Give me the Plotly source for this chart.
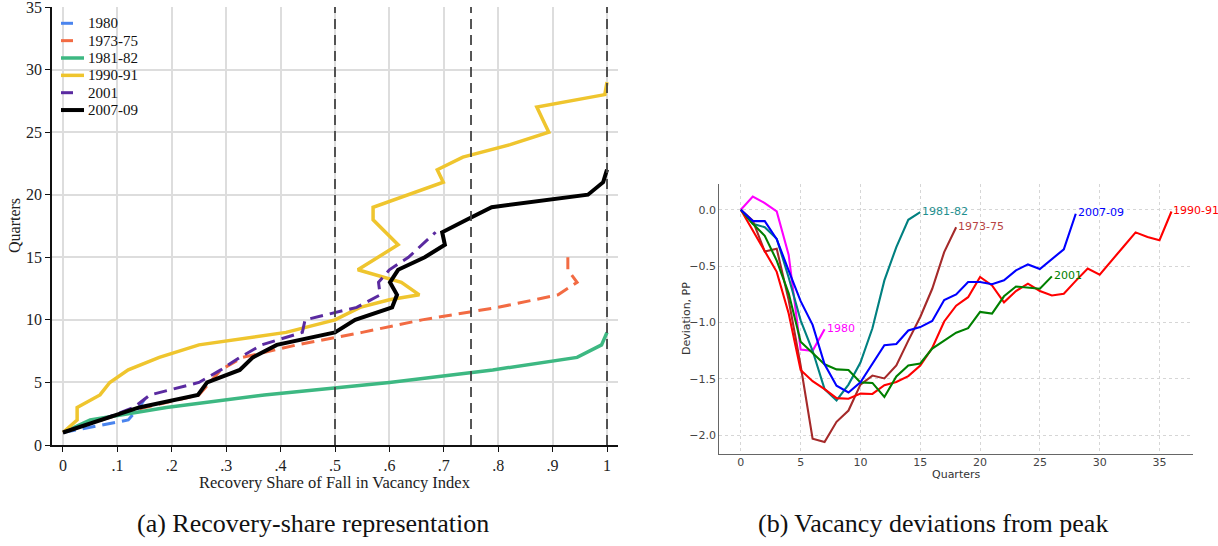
import plotly.graph_objects as go

# ---------------- Panel (a): quarters needed to reach each recovery share ----------------
share_1980 = [0.0, 0.12, 0.14, 0.155]
qtr_1980 = [1, 2, 3, 4]

share_1973 = [0.0, 0.07, 0.15, 0.25, 0.27, 0.29, 0.33, 0.43, 0.55, 0.66, 0.80, 0.91, 0.945, 0.928, 0.928]
qtr_1973 = [1, 2, 3, 4, 5, 6, 7, 8, 9, 10, 11, 12, 13, 14, 15]

share_1981 = [0.0, 0.05, 0.19, 0.37, 0.60, 0.79, 0.945, 0.99, 1.0]
qtr_1981 = [1, 2, 3, 4, 5, 6, 7, 8, 9]

share_1990 = [0.0, 0.026, 0.026, 0.068, 0.086, 0.12, 0.177, 0.25, 0.41, 0.50, 0.546, 0.60, 0.655,
              0.622, 0.542, 0.579, 0.616, 0.593, 0.57, 0.57, 0.635, 0.699, 0.688, 0.735, 0.822,
              0.893, 0.882, 0.871, 0.996, 1.0]
qtr_1990 = [1, 2, 3, 4, 5, 6, 7, 8, 9, 10, 11, 11.6, 12, 13, 14, 15, 16, 17, 18, 19, 20, 21, 22,
            23, 24, 25, 26, 27, 28, 29]

share_2001 = [0.0, 0.07, 0.13, 0.16, 0.25, 0.29, 0.325, 0.365, 0.44, 0.445, 0.54, 0.583, 0.58,
              0.60, 0.635, 0.66, 0.685]
qtr_2001 = [1, 2, 3, 4, 5, 6, 7, 8, 9, 10, 11, 12, 13, 14, 15, 16, 17]

share_2007 = [0.0, 0.07, 0.14, 0.248, 0.265, 0.325, 0.349, 0.393, 0.50, 0.537, 0.605, 0.614,
              0.601, 0.616, 0.665, 0.702, 0.697, 0.742, 0.788, 0.965, 0.993, 1.0]
qtr_2007 = [1, 2, 3, 4, 5, 6, 7, 8, 9, 10, 11, 12, 13, 14, 15, 16, 17, 18, 19, 20, 21, 22]

marker_shares = [0.5, 0.75, 1.0]
share_ticks = [0, 0.1, 0.2, 0.3, 0.4, 0.5, 0.6, 0.7, 0.8, 0.9, 1.0]
share_tick_text = ["0", ".1", ".2", ".3", ".4", ".5", ".6", ".7", ".8", ".9", "1"]

# ---------------- Panel (b): vacancy deviation from peak, by quarter ----------------
dev_1980 = [0.0, 0.118, 0.06, -0.015, -0.40, -1.24, -1.25, -1.06]
dev_1981 = [0.0, -0.124, -0.154, -0.257, -0.60, -0.98, -1.25, -1.59, -1.69, -1.55, -1.355,
            -1.05, -0.626, -0.33, -0.088, -0.02]
dev_1973 = [0.0, -0.095, -0.37, -0.345, -0.80, -1.38, -2.03, -2.06, -1.88, -1.78, -1.55, -1.47,
            -1.495, -1.38, -1.16, -0.95, -0.70, -0.375, -0.154]
dev_1990 = [0.0, -0.18, -0.37, -0.55, -0.92, -1.42, -1.52, -1.59, -1.67, -1.675, -1.63, -1.633,
            -1.555, -1.527, -1.475, -1.38, -1.225, -0.99, -0.85, -0.775, -0.595, -0.67, -0.82,
            -0.72, -0.655, -0.72, -0.76, -0.745, -0.63, -0.52, -0.575, -0.455, -0.325, -0.20,
            -0.24, -0.27, -0.015]
dev_2001 = [0.0, -0.124, -0.23, -0.45, -0.74, -1.17, -1.27, -1.37, -1.415, -1.42, -1.53, -1.535,
            -1.66, -1.478, -1.38, -1.363, -1.23, -1.16, -1.09, -1.05, -0.906, -0.92, -0.767,
            -0.68, -0.69, -0.70, -0.59]
dev_2007 = [0.0, -0.10, -0.10, -0.26, -0.54, -0.81, -1.02, -1.37, -1.56, -1.62, -1.53, -1.37,
            -1.20, -1.19, -1.07, -1.04, -0.985, -0.80, -0.75, -0.64, -0.64, -0.66, -0.625,
            -0.537, -0.484, -0.525, -0.434, -0.35, -0.035]

SERIF = "Liberation Serif"
SANS = "DejaVu Sans"
W, H = 1218, 546


def px(x):
    return x / W


def py(y):
    return 1 - y / H


fig = go.Figure()

# recovery-share curves: (name, shares, quarters, colour, width, dash)
left_series = [
    ("1980", share_1980, qtr_1980, "#4a84ee", 3, "13px,7px"),
    ("1973-75", share_1973, qtr_1973, "#f26b43", 3, "13px,7px"),
    ("1981-82", share_1981, qtr_1981, "#3db882", 3.5, "solid"),
    ("1990-91", share_1990, qtr_1990, "#efc52e", 3.5, "solid"),
    ("2001", share_2001, qtr_2001, "#5a2aa0", 3, "13px,7px"),
    ("2007-09", share_2007, qtr_2007, "#000000", 4, "solid"),
]
for name, xs, ys, col, w, dash in left_series:
    fig.add_trace(go.Scatter(x=xs, y=ys, mode="lines", name=name,
                             line=dict(color=col, width=w, dash=dash),
                             xaxis="x", yaxis="y", showlegend=False))

# dashed reference lines at key recovery shares
for s in marker_shares:
    fig.add_shape(type="line", xref="x", yref="y", x0=s, x1=s, y0=0, y1=35,
                  line=dict(color="#444444", width=1.8, dash="10px,6px"), layer="above")

# deviation paths: (name, values, colour)
right_series = [
    ("1980", dev_1980, "#ff00ff"),
    ("1981-82", dev_1981, "#008080"),
    ("1973-75", dev_1973, "#a52a2a"),
    ("1990-91", dev_1990, "#ff0000"),
    ("2001", dev_2001, "#008000"),
    ("2007-09", dev_2007, "#0000ff"),
]
label_colours = {"1973-75": "#b84444", "1981-82": "#1f8f8f"}
annotations = []
for name, vals, col in right_series:
    qs = list(range(len(vals)))
    fig.add_trace(go.Scatter(x=qs, y=vals, mode="lines", name=name,
                             line=dict(color=col, width=2.1),
                             xaxis="x2", yaxis="y2", showlegend=False))
    annotations.append(dict(x=qs[-1], y=vals[-1], xref="x2", yref="y2", text=name,
                            showarrow=False, xanchor="left", yanchor="middle", yshift=1,
                            font=dict(family=SANS, size=11, color=label_colours.get(name, col))))

# hand-placed legend for panel (a)
leg_x0, leg_y0, leg_step = 61, 23.3, 17.35
for i, (name, xs, ys, col, w, dash) in enumerate(left_series):
    yc = py(leg_y0 + i * leg_step)
    seg = 12 if dash != "solid" else 23
    fig.add_shape(type="line", xref="paper", yref="paper",
                  x0=px(leg_x0), x1=px(leg_x0 + seg), y0=yc, y1=yc,
                  line=dict(color=col, width=w))
    annotations.append(dict(x=px(86), y=yc, xref="paper", yref="paper", text=name,
                            showarrow=False, xanchor="left", yanchor="middle",
                            font=dict(family=SERIF, size=15, color="#111111")))


def label(x, y, text, family, size, angle=0, color="#222222"):
    return dict(x=px(x), y=py(y), xref="paper", yref="paper", text=text, showarrow=False,
                xanchor="center", yanchor="middle", textangle=angle,
                font=dict(family=family, size=size, color=color))


# axis titles and panel captions
annotations += [
    label(335, 482, "Recovery Share of Fall in Vacancy Index", SERIF, 16.5),
    label(15, 226, "Quarters", SERIF, 16, angle=-90),
    label(956, 474, "Quarters", SANS, 11, color="#333333"),
    label(686, 319, "Deviation, PP", SANS, 11, angle=-90, color="#333333"),
    label(313, 523, "(a) Recovery-share representation", SERIF, 26, color="#111111"),
    label(933, 523, "(b) Vacancy deviations from peak", SERIF, 26, color="#111111"),
]

fig.update_layout(
    width=W, height=H,
    margin=dict(l=0, r=0, t=0, b=0, autoexpand=False),
    paper_bgcolor="white", plot_bgcolor="white",
    showlegend=False,
    annotations=annotations,
    xaxis=dict(domain=[px(52), px(618)], range=[-0.0202, 1.0202],
               tickvals=share_ticks, ticktext=share_tick_text, automargin=False,
               showgrid=True, gridcolor="#dddddd", gridwidth=1.5, zeroline=False,
               showline=True, linecolor="#111111", linewidth=1.5,
               ticks="outside", ticklen=5, tickcolor="#111111", tickwidth=1.2,
               ticklabeloverflow="allow",
               tickfont=dict(family=SERIF, size=16, color="#222222"), anchor="y"),
    yaxis=dict(domain=[py(445), py(7)], range=[0, 35], dtick=5, automargin=False,
               showgrid=True, gridcolor="#dddddd", gridwidth=1.5, zeroline=False,
               showline=True, linecolor="#111111", linewidth=1.5,
               ticks="outside", ticklen=5, tickcolor="#111111", tickwidth=1.2,
               ticklabeloverflow="allow",
               tickfont=dict(family=SERIF, size=16, color="#222222"), anchor="x"),
    xaxis2=dict(domain=[px(719.3), px(1193)], range=[-1.8, 37.8],
                tickvals=[0, 5, 10, 15, 20, 25, 30, 35], automargin=False,
                showgrid=True, gridcolor="#d6d6d6", gridwidth=1, griddash="dot",
                zeroline=False, showline=True, linecolor="#666666", linewidth=1.2,
                ticks="", ticklabelstandoff=-3,
                tickfont=dict(family=SANS, size=11, color="#444444"), anchor="y2"),
    yaxis2=dict(domain=[py(454.3), py(184)], range=[-2.168, 0.229],
                tickvals=[0.0, -0.5, -1.0, -1.5, -2.0], tickformat=".1f", automargin=False,
                showgrid=True, gridcolor="#d6d6d6", gridwidth=1, griddash="dot",
                zeroline=False, showline=True, linecolor="#666666", linewidth=1.2,
                ticks="", tickfont=dict(family=SANS, size=11, color="#444444"), anchor="x2"),
)

fig.write_html("out.html")
